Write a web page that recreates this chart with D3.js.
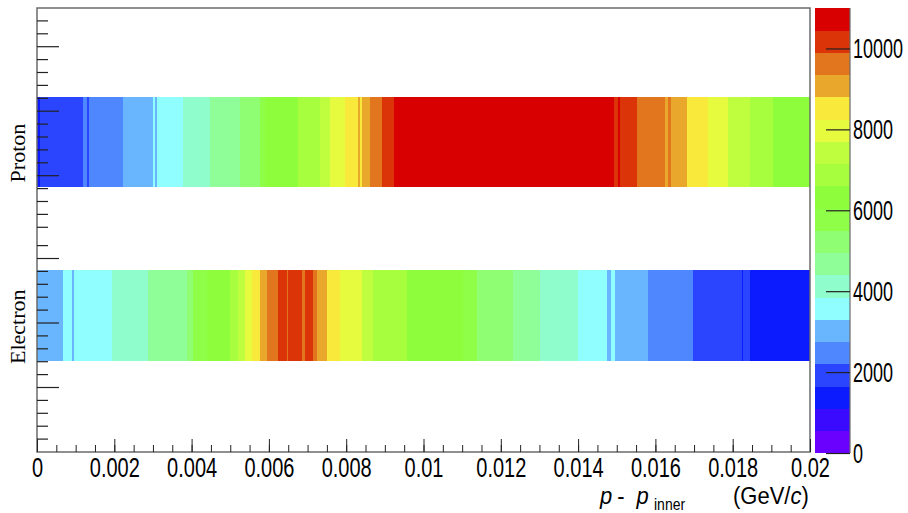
<!DOCTYPE html>
<html>
<head>
<meta charset="utf-8">
<script src="https://cdn.jsdelivr.net/npm/d3@7"></script>
<style>
  html, body { margin: 0; padding: 0; background: #fff; }
  svg { display: block; }
</style>
</head>
<body>
<svg id="chart" width="908" height="513"></svg>
<script>
// ---------------- DATA ----------------
const rows = ["Electron", "Proton"];
const rowLow = [1.02, 2.98];   // y bin low edges
const rowHigh = [2.05, 4.0];   // y bin high edges

// Proton: bin low edges (GeV/c) and contents
const protonEdges = [0, 0.00008, 0.00118, 0.00129, 0.00135, 0.00223, 0.00301, 0.00305, 0.00310,
  0.00379, 0.00448, 0.00525, 0.00577, 0.00590, 0.00676, 0.00732, 0.00758, 0.00797, 0.00831,
  0.00836, 0.00840, 0.00862, 0.00892, 0.00924, 0.01493, 0.01504, 0.01508, 0.01552, 0.01625,
  0.01632, 0.01640, 0.01681, 0.01737, 0.01789, 0.01845, 0.01905, 0.02];
const protonValues = [1400, 1900, 2300, 2100, 2500, 3000, 3500, 3200, 3600,
  4100, 4700, 5200, 5800, 6300, 6900, 7400, 8000, 8500, 9000,
  8400, 9100, 9600, 10200, 10800, 10300, 10500, 10100, 9700, 9000,
  9500, 9100, 8600, 8100, 7500, 6800, 6300];

// Electron: bin low edges (GeV/c) and contents
const electronEdges = [0, 0.00068, 0.00090, 0.00096, 0.00193, 0.00288, 0.00387, 0.00404, 0.00439,
  0.00499, 0.00521, 0.00538, 0.00556, 0.00577, 0.00594, 0.00624, 0.00646, 0.00650, 0.00685,
  0.00693, 0.00715, 0.00724, 0.00751, 0.00784, 0.00840, 0.00870, 0.00957, 0.01103, 0.01138,
  0.01232, 0.01301, 0.01401, 0.01474, 0.01484, 0.01496, 0.01504, 0.01582, 0.01698, 0.01823,
  0.01827, 0.01845, 0.02];
const electronValues = [3000, 3500, 3100, 3700, 4200, 4600, 5100, 5700, 6300,
  6800, 7300, 7900, 8400, 9000, 9500, 10000, 9800, 10300, 9700,
  10100, 9500, 9000, 8600, 8100, 7300, 6700, 6100, 5600, 5000,
  4600, 4100, 3600, 3100, 3400, 3000, 3000, 2500, 1900, 1400,
  1700, 1300];

// x axis
const xDomain = [0, 0.02];
const xMajorTicks = [0, 0.002, 0.004, 0.006, 0.008, 0.01, 0.012, 0.014, 0.016, 0.018, 0.02];
const xTickLabels = ["0", "0.002", "0.004", "0.006", "0.008", "0.01", "0.012", "0.014", "0.016", "0.018", "0.02"];
const xMinorStep = 0.0005;

// colour scale (z)
const zMax = 11000;
const nContours = 20;
const zTicks = [0, 2000, 4000, 6000, 8000, 10000];
const zTickLabels = ["0", "2000", "4000", "6000", "8000", "10000"];
const palette = ["#6a00fe", "#3a0afe", "#0b1bfe", "#2b45fe", "#4f87fe", "#6ab6fe", "#90fefe",
  "#90fecc", "#90fe98", "#8ffe72", "#8efe48", "#8efe3c", "#a6fe3e", "#befe3e", "#e6fb3d",
  "#f8e93a", "#e9a72b", "#e1761f", "#dc3409", "#d80000"];

// y axis tick marks (two tick sets: counted from the bottom and from the top of the frame)
const yTicksFromBottom = d3.range(1, 17);
const yLongFromBottom = [5, 10, 15];
const yTicksFromTop = d3.range(1, 18);
const yLongFromTop = [3, 8, 13];
const yTickUnits = 34.42;

// ---------------- LAYOUT ----------------
const frame = { left: 37, right: 810, top: 8, bottom: 452 };
const cbar = { left: 815, right: 850, top: 8, bottom: 453 };
const svg = d3.select("#chart");

const x = d3.scaleLinear().domain(xDomain).range([frame.left, frame.right]);
const y = d3.scaleLinear().domain([0, 5]).range([frame.bottom, frame.top]);
const z = d3.scaleLinear().domain([0, zMax]).range([cbar.bottom, cbar.top]);
const step = zMax / nContours;
const colorOf = v => palette[Math.max(0, Math.min(nContours - 1, Math.floor(v / step)))];

// ---------------- CELLS ----------------
const series = [
  { edges: electronEdges, values: electronValues, row: 0 },
  { edges: protonEdges, values: protonValues, row: 1 }
];
const cells = svg.append("g");
series.forEach(s => {
  const data = s.values.map((v, i) => ({ x0: s.edges[i], x1: s.edges[i + 1], v }));
  cells.selectAll(null).data(data).enter().append("rect")
    .attr("x", d => x(d.x0))
    .attr("width", d => Math.max(0.5, x(d.x1) - x(d.x0)) + 0.4)
    .attr("y", y(rowHigh[s.row]))
    .attr("height", y(rowLow[s.row]) - y(rowHigh[s.row]))
    .attr("fill", d => colorOf(d.v))
    .attr("shape-rendering", "crispEdges");
});

// ---------------- FRAME ----------------
svg.append("rect")
  .attr("x", frame.left).attr("y", frame.top)
  .attr("width", frame.right - frame.left).attr("height", frame.bottom - frame.top)
  .attr("fill", "none").attr("stroke", "#6b6b6b").attr("stroke-width", 1.5);

// ---------------- X AXIS ----------------
const sy = 1.35;
const xMinor = d3.range(0, 41).map(i => i * xMinorStep);
const gxMinor = svg.append("g").attr("transform", `translate(0,${frame.bottom})`)
  .call(d3.axisBottom(x).tickValues(xMinor).tickSize(-7).tickFormat(""));
gxMinor.select(".domain").remove();
gxMinor.selectAll("line").attr("stroke", "#222");

const gx = svg.append("g").attr("transform", `translate(0,${frame.bottom})`)
  .call(d3.axisBottom(x).tickValues(xMajorTicks).tickSize(-13)
    .tickFormat((d, i) => xTickLabels[i]));
gx.select(".domain").remove();
gx.selectAll("line").attr("stroke", "#222");
gx.selectAll("text")
  .attr("font-family", "'Liberation Sans', Arial, sans-serif")
  .attr("font-size", 20)
  .attr("fill", "#000")
  .attr("dy", null)
  .attr("y", 25 / sy)
  .attr("transform", `scale(1,${sy})`);

// x title
const titleFont = "'Liberation Sans', Arial, sans-serif";
const st = 1.12;
const t1 = svg.append("text")
  .attr("transform", `translate(600,504) scale(1,${st})`)
  .attr("font-family", titleFont).attr("font-size", 22).attr("fill", "#000");
t1.append("tspan").attr("font-style", "italic").text("p");
t1.append("tspan").attr("dx", 5).text("-");
t1.append("tspan").attr("dx", 12).attr("font-style", "italic").text("p");
svg.append("text")
  .attr("transform", `translate(654,510) scale(1,${st})`)
  .attr("font-family", titleFont).attr("font-size", 14).attr("fill", "#000")
  .text("inner");
const t2 = svg.append("text")
  .attr("transform", `translate(733,504) scale(1,${st})`)
  .attr("font-family", titleFont).attr("font-size", 22).attr("fill", "#000");
t2.append("tspan").text("(GeV/");
t2.append("tspan").attr("font-style", "italic").text("c");
t2.append("tspan").text(")");

// ---------------- Y AXIS TICKS ----------------
const yt = d3.scaleLinear().domain([0, yTickUnits]).range([frame.bottom, frame.top]);
const ytickData = [
  ...yTicksFromBottom.map(k => ({ v: k, long: yLongFromBottom.includes(k) })),
  ...yTicksFromTop.map(k => ({ v: yTickUnits - k, long: yLongFromTop.includes(k) }))
];
svg.append("g").selectAll("line").data(ytickData).enter().append("line")
  .attr("x1", frame.left)
  .attr("x2", d => frame.left + (d.long ? 22 : 11))
  .attr("y1", d => yt(d.v)).attr("y2", d => yt(d.v))
  .attr("stroke", "#222").attr("stroke-width", 1.2);

// row labels
svg.append("g").selectAll("text").data(rows).enter().append("text")
  .attr("transform", (d, i) => `translate(25,${(y(rowLow[i]) + y(rowHigh[i])) / 2 + 11}) rotate(-90)`)
  .attr("text-anchor", "middle")
  .attr("font-family", "'Liberation Serif', 'Times New Roman', serif")
  .attr("font-size", 22)
  .attr("fill", "#000")
  .text(d => d);

// ---------------- COLOUR BAR ----------------
const levels = d3.range(nContours);
svg.append("g").selectAll("rect").data(levels).enter().append("rect")
  .attr("x", cbar.left)
  .attr("width", cbar.right - cbar.left)
  .attr("y", i => z((i + 1) * step))
  .attr("height", i => z(i * step) - z((i + 1) * step) + 0.3)
  .attr("fill", i => palette[i])
  .attr("shape-rendering", "crispEdges");
svg.append("line")
  .attr("x1", cbar.right).attr("x2", cbar.right)
  .attr("y1", cbar.top).attr("y2", cbar.bottom)
  .attr("stroke", "#6b6b6b").attr("stroke-width", 1.2);

const gz = svg.append("g").attr("transform", `translate(${cbar.right},0)`)
  .call(d3.axisLeft(z).tickValues(zTicks).tickSize(24).tickFormat(""));
gz.select(".domain").remove();
gz.selectAll("line").attr("stroke", "#222").attr("stroke-width", 1.2);

const sz = 1.55;
svg.append("g").selectAll("text").data(zTicks).enter().append("text")
  .attr("transform", d => `translate(${cbar.right + 3},${z(d) + 10}) scale(1,${sz})`)
  .attr("font-family", "'Liberation Sans', Arial, sans-serif")
  .attr("font-size", 18)
  .attr("fill", "#000")
  .text((d, i) => zTickLabels[i]);
</script>
</body>
</html>
